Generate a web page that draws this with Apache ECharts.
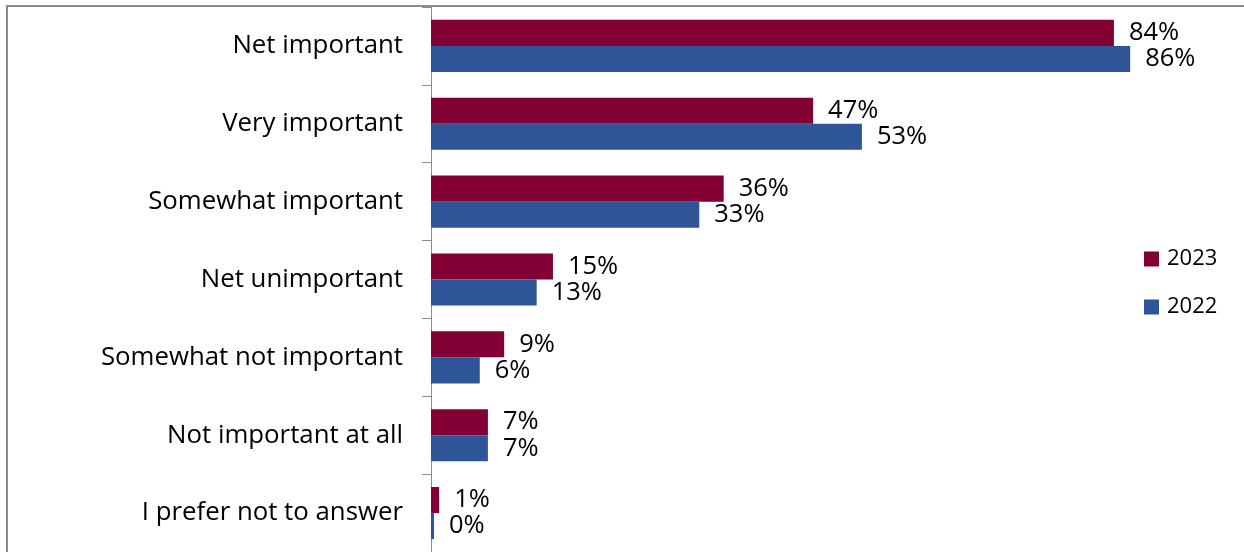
<!DOCTYPE html>
<html>
<head>
<meta charset="utf-8">
<script src="https://cdn.jsdelivr.net/npm/echarts@6/dist/echarts.min.js"></script>
<style>
  html, body { margin: 0; padding: 0; background: #fff; }
  #frame { position: absolute; left: 6px; top: 5px; width: 1238px; height: 547px;
           border-top: 2px solid #8c8c8c; border-left: 2px solid #8c8c8c; box-sizing: border-box; }
  #chart { position: absolute; left: 0; top: 0; width: 1244px; height: 552px; }
</style>
</head>
<body>
<div id="frame"></div>
<div id="chart"></div>
<script>
// Importance ratings, share of respondents (%)
const categories = [
  'Net important',
  'Very important',
  'Somewhat important',
  'Net unimportant',
  'Somewhat not important',
  'Not important at all',
  'I prefer not to answer'
];
const values2023 = [84, 47, 36, 15, 9, 7, 1];
const values2022 = [86, 53, 33, 13, 6, 7, 0];
const seriesNames = ['2023', '2022'];

const FONT = '"Open Sans", sans-serif';
const chart = echarts.init(document.getElementById('chart'), null, { renderer: 'canvas' });

const valueLabel = {
  show: true,
  position: 'right',
  distance: 15,
  formatter: p => p.value + '%',
  color: '#000',
  fontSize: 25.5,
  fontFamily: FONT
};

chart.setOption({
  animation: false,
  backgroundColor: 'transparent',
  grid: { left: 431, top: 7, width: 818, height: 546, containLabel: false },
  legend: {
    data: seriesNames,
    orient: 'vertical',
    left: 1139,
    top: 243,
    itemWidth: 15,
    itemHeight: 15,
    itemGap: 26,
    icon: 'rect',
    textStyle: { fontSize: 22, color: '#000', fontFamily: FONT, padding: [0, 0, 0, 3] }
  },
  xAxis: {
    type: 'value',
    min: 0,
    max: 100,
    show: false
  },
  yAxis: {
    type: 'category',
    data: categories,
    inverse: true,
    axisLine: { show: true, lineStyle: { color: '#8c8c8c', width: 1 } },
    axisTick: { show: true, length: 9, lineStyle: { color: '#8c8c8c' } },
    axisLabel: { color: '#000', fontSize: 25.8, fontFamily: FONT, margin: 28 },
    splitLine: { show: false }
  },
  series: [
    {
      name: seriesNames[0],
      type: 'bar',
      data: values2023,
      barGap: '0%',
      barCategoryGap: '33%',
      barMinHeight: 3,
      itemStyle: { color: '#820034' },
      label: valueLabel
    },
    {
      name: seriesNames[1],
      type: 'bar',
      data: values2022,
      barGap: '0%',
      barCategoryGap: '33%',
      barMinHeight: 3,
      itemStyle: { color: '#2e5597' },
      label: valueLabel
    }
  ]
});
</script>
</body>
</html>
